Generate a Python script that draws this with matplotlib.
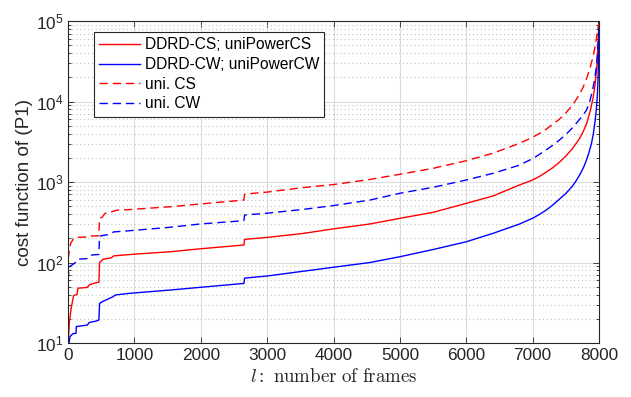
import matplotlib
matplotlib.use('Agg')
import matplotlib.pyplot as plt
from matplotlib import ticker

plt.rcParams['font.family'] = ['Liberation Sans', 'DejaVu Sans']

# sorted cost values (l, cost)
red_cs_l = [0, 20, 50, 85, 135, 150, 290, 320, 380, 465, 475, 530, 650, 690, 1000,
            1536, 1990, 2650, 2660, 3000, 3545, 4000, 4548, 5000, 5500, 6000, 6400,
            6800, 7000, 7100, 7200, 7300, 7400, 7500, 7600, 7700, 7760, 7820, 7870,
            7910, 7940, 7965, 7982, 7993, 8000]
red_cs = [9, 18, 28, 39, 40, 48, 49, 52.6, 55, 57, 100, 110, 114, 121, 127,
          136, 148, 165, 194, 205, 230, 262, 301, 354, 420, 543, 670,
          918, 1060, 1170, 1320, 1500, 1750, 2100, 2600, 3400, 4200, 5500, 7800,
          11000, 16000, 26000, 45000, 72000, 100000]

blue_cw_l = [0, 15, 30, 70, 120, 125, 290, 320, 420, 465, 475, 515, 680, 710, 925,
             1536, 2650, 2660, 3000, 3795, 4548, 5000, 5500, 6000, 6400, 6800, 7000,
             7100, 7200, 7300, 7410, 7500, 7600, 7660, 7720, 7770, 7811, 7850, 7886,
             7915, 7940, 7960, 7975, 7986, 7994, 8000]
blue_cw = [8, 10, 12, 13, 13.2, 16, 16.7, 18, 18.7, 19.3, 31, 32.6, 37.6, 39.5, 41.4,
           45.5, 55, 64, 68, 83, 100, 118, 145, 181, 230, 300, 355,
           395, 445, 515, 620, 720, 890, 1050, 1270, 1540, 1870, 2350, 3000,
           4000, 5600, 8000, 12000, 20000, 40000, 100000]

red_uni_l = [0, 10, 30, 40, 70, 80, 150, 300, 330, 465, 475, 510, 560, 660, 740, 880,
             1536, 1990, 2650, 2660, 3000, 3545, 4000, 4548, 5000, 5500, 6000, 6400,
             6800, 6900, 7000, 7100, 7200, 7300, 7400, 7500, 7600, 7700, 7760, 7820,
             7870, 7910, 7945, 7970, 7988, 8000]
red_uni = [110, 123, 158, 173, 190, 200, 206, 207, 213, 215, 355, 363, 410, 428, 448, 452,
           493, 533, 597, 707, 750, 854, 930, 1077, 1248, 1480, 1840, 2275,
           3020, 3300, 3600, 4000, 4500, 5200, 6000, 7200, 9000, 12000, 15000, 20000,
           27000, 36000, 50000, 68000, 85000, 100000]

blue_uni_l = [0, 15, 30, 100, 150, 300, 360, 465, 475, 600, 690, 920,
              1536, 1990, 2650, 2660, 3000, 3545, 4000, 4548, 5000, 5500, 6000, 6400,
              6800, 6900, 7000, 7100, 7200, 7300, 7400, 7500, 7600, 7700, 7760, 7811,
              7860, 7900, 7935, 7960, 7978, 7990, 8000]
blue_uni = [60, 85, 90, 98, 110, 112, 124, 126, 213, 222, 240, 248,
            274, 301, 331, 389, 410, 457, 510, 597, 725, 860, 1060, 1280,
            1620, 1780, 1950, 2200, 2500, 2850, 3300, 3900, 4700, 5900, 6800, 7800,
            10000, 13500, 19000, 27000, 40000, 60000, 100000]

labels = ['DDRD-CS; uniPowerCS', 'DDRD-CW; uniPowerCW', 'uni. CS', 'uni. CW']

fig = plt.figure(figsize=(6.31, 3.97), dpi=100)
ax = fig.add_axes([0.1078, 0.136, 0.8415, 0.811])

dash = (0, (6, 3.5))
ax.plot(red_cs_l, red_cs, color='red', lw=1.0, label=labels[0])
ax.plot(blue_cw_l, blue_cw, color='blue', lw=1.0, label=labels[1])
ax.plot(red_uni_l, red_uni, color='red', lw=1.0, ls=dash, label=labels[2])
ax.plot(blue_uni_l, blue_uni, color='blue', lw=1.0, ls=dash, label=labels[3])

ax.set_yscale('log')
ax.set_xlim(0, 8000)
ax.set_ylim(10, 1e5)
ax.xaxis.set_major_locator(ticker.MultipleLocator(1000))
ax.yaxis.set_minor_formatter(ticker.NullFormatter())

ax.grid(True, which='major', color='#dcdcdc', lw=0.8, ls='-')
ax.grid(True, which='minor', axis='y', color='#c4c4c4', lw=0.8, ls=(0, (1, 2.5)))
ax.set_axisbelow(True)

dark = '#262626'
for s in ax.spines.values():
    s.set_color(dark)
    s.set_linewidth(0.8)
ax.tick_params(which='both', direction='in', top=True, right=True,
               colors=dark, labelsize=12.4, width=0.6)
ax.tick_params(which='major', length=4.5)
ax.tick_params(which='minor', length=2.5)

ax.set_ylabel('cost function of (P1)', fontsize=13.6, color=dark, labelpad=2)
ax.set_xlabel(r'$l\mathrm{:\ number\ of\ frames}$', fontsize=13.6, color=dark,
              math_fontfamily='cm', labelpad=4)

leg = ax.legend(loc='upper left', bbox_to_anchor=(0.049, 0.966), borderaxespad=0,
                fontsize=11.2, fancybox=False, framealpha=1, edgecolor=dark,
                handlelength=2.6, handletextpad=0.3, labelspacing=0.3,
                borderpad=0.35)
leg.get_frame().set_linewidth(0.8)

fig.savefig('out.png', dpi=100)
